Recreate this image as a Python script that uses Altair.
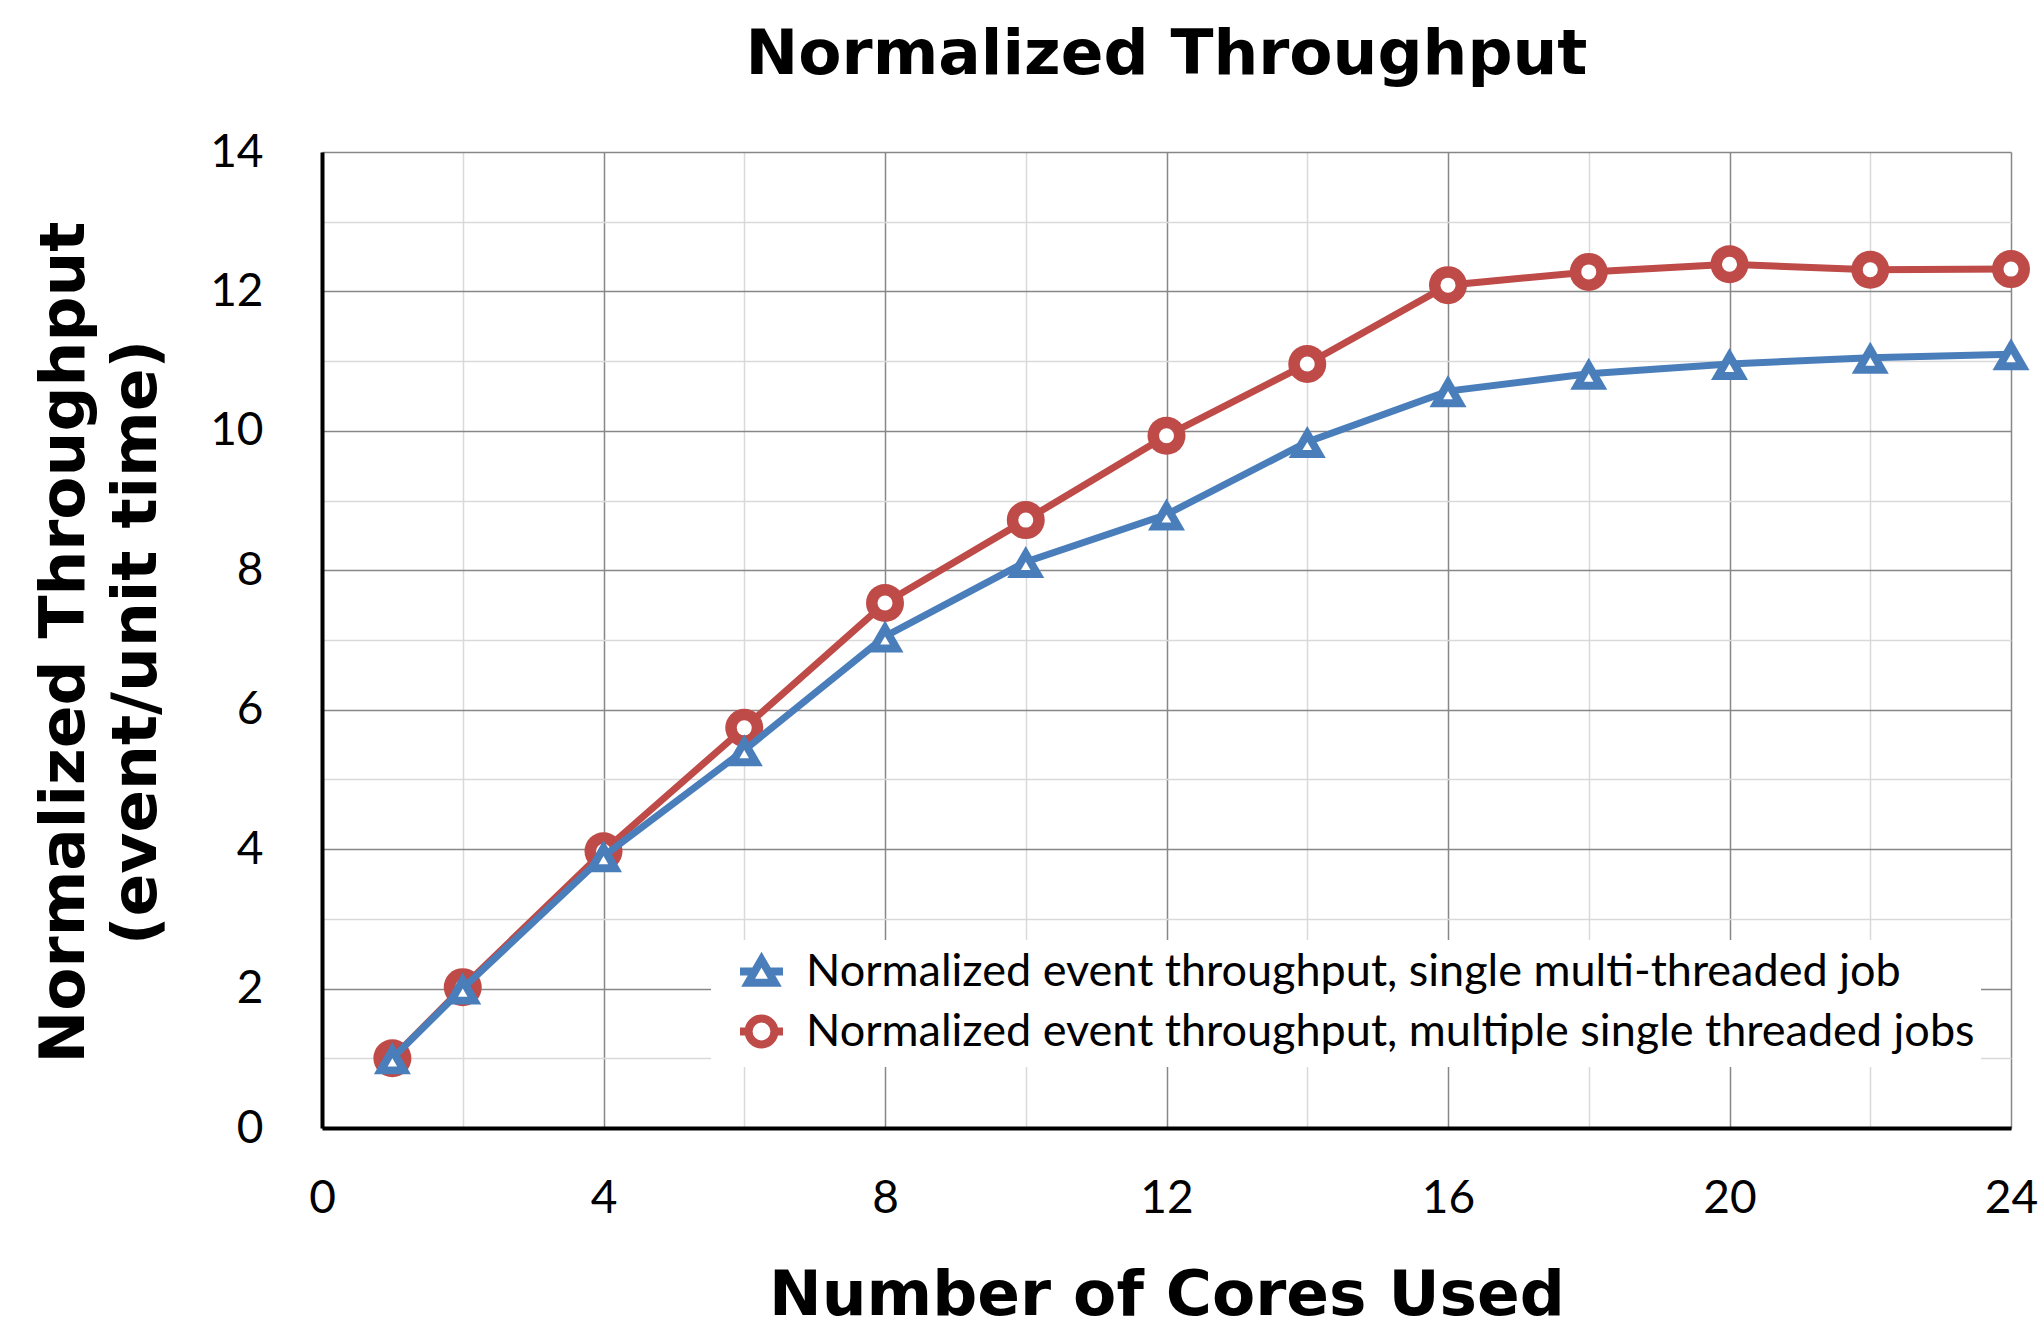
import altair as alt
import pandas as pd

# ---- data ----
cores = [1, 2, 4, 6, 8, 10, 12, 14, 16, 18, 20, 22, 24]
single_mt = [1.0, 2.0, 3.9, 5.42, 7.05, 8.12, 8.8, 9.84, 10.57, 10.82, 10.96, 11.05, 11.1]
multi_st = [1.0, 2.02, 3.97, 5.74, 7.53, 8.72, 9.93, 10.96, 12.09, 12.28, 12.39, 12.31, 12.32]
series_names = [
    "Normalized event throughput, single multi-threaded job",
    "Normalized event throughput, multiple single threaded jobs",
]
colors = ["#4A7EBB", "#BE4B48"]
x_ticks = list(range(0, 25, 2))
y_ticks = list(range(0, 15))

rows = []
for c, a, b in zip(cores, single_mt, multi_st):
    rows.append({"cores": c, "value": a, "series": series_names[0]})
    rows.append({"cores": c, "value": b, "series": series_names[1]})
df = pd.DataFrame(rows)

LABEL_FONT = "Lato"
TITLE_FONT = "DejaVu Sans"
MAJOR = "#878787"
MINOR = "#d9d9d9"

x_axis = alt.Axis(
    values=x_ticks,
    labelExpr="datum.value % 4 === 0 ? datum.label : ''",
    grid=True,
    gridColor={"condition": {"test": "datum.value % 4 === 0", "value": MAJOR}, "value": MINOR},
    gridWidth=1.5,
    ticks=False,
    tickSize=0,
    domainColor="black",
    domainWidth=4,
    labelFont=LABEL_FONT,
    labelFontSize=46,
    labelColor="black",
    labelPadding=48,
    labelFlush=False,
    labelOverlap=False,
    title="Number of Cores Used",
    titleFont=TITLE_FONT,
    titleFontSize=63,
    titleFontWeight="bold",
    titleColor="black",
    titleX=844.5,
    titleY=186,
    titleAlign="center",
    titleBaseline="alphabetic",
)

y_axis = alt.Axis(
    values=y_ticks,
    labelExpr="datum.value % 2 === 0 ? datum.label : ''",
    grid=True,
    gridColor={"condition": {"test": "datum.value % 2 === 0", "value": MAJOR}, "value": MINOR},
    gridWidth=1.5,
    ticks=False,
    tickSize=0,
    domainColor="black",
    domainWidth=4,
    labelFont=LABEL_FONT,
    labelFontSize=46,
    labelColor="black",
    labelPadding=59,
    labelFlush=False,
    labelOverlap=False,
    title=["Normalized Throughput", "(event/unit time)"],
    titleFont=TITLE_FONT,
    titleFontSize=63,
    titleFontWeight="bold",
    titleColor="black",
    titleLineHeight=72,
    titleAngle=270,
    titleX=-239,
    titleY=490,
    titleAlign="center",
    titleBaseline="alphabetic",
)

X = alt.X("cores:Q", scale=alt.Scale(domain=[0, 24], nice=False, zero=True), axis=x_axis)
Y = alt.Y("value:Q", scale=alt.Scale(domain=[0, 14], nice=False, zero=True), axis=y_axis)

tri_path = "M-1,0H-0.3M0.3,0H1M0,-0.55L0.62,0.52L-0.62,0.52Z"
circ_path = "M-0.6,0A0.6,0.6,0,1,1,0.6,0A0.6,0.6,0,1,1,-0.6,0ZM-1,0H-0.6M0.6,0H1"

legend = alt.Legend(
    title=None,
    orient="none",
    legendX=389,
    legendY=788,
    fillColor="white",
    padding=6,
    symbolOffset=19,
    labelOffset=19,
    rowPadding=3,
    symbolSize=1849,
    symbolStrokeWidth=8,
    symbolOpacity=1,
    symbolFillColor="white",
    labelFont=LABEL_FONT,
    labelFontSize=45,
    labelColor="black",
    labelLimit=0,
)

base = alt.Chart(df)

legend_layer = base.mark_point(opacity=0, filled=False, strokeWidth=8).encode(
    x=X,
    y=Y,
    color=alt.Color("series:N", scale=alt.Scale(domain=series_names, range=colors), legend=legend),
    shape=alt.Shape("series:N", scale=alt.Scale(domain=series_names, range=[tri_path, circ_path]), legend=legend),
)

red = base.transform_filter(alt.datum.series == series_names[1])
blue = base.transform_filter(alt.datum.series == series_names[0])

red_line = red.mark_line(color=colors[1], strokeWidth=7).encode(x=X, y=Y)
red_outer = red.mark_point(
    shape="circle", filled=True, color=colors[1], size=1444, opacity=1, strokeWidth=0
).encode(x=X, y=Y)
red_inner = red.mark_point(
    shape="circle", filled=True, color="white", size=225, opacity=1, strokeWidth=0
).encode(x=X, y=Y)
blue_line = blue.mark_line(color=colors[0], strokeWidth=7).encode(x=X, y=Y)
blue_outer = blue.mark_point(
    shape="triangle-up", filled=True, color=colors[0], size=1369, opacity=1, strokeWidth=0
).encode(x=X, y=Y)
blue_inner = blue.mark_point(
    shape="triangle-up", filled=True, color="white", size=90, opacity=1, strokeWidth=0, yOffset=4
).encode(x=X, y=Y)

chart = (
    alt.layer(legend_layer, red_line, red_outer, red_inner, blue_line, blue_outer, blue_inner)
    .properties(
        width=1689,
        height=976,
        title=alt.Title(
            "Normalized Throughput",
            font=TITLE_FONT,
            fontSize=63,
            fontWeight="bold",
            color="black",
            anchor="middle",
            offset=42,
        ),
        autosize=alt.AutoSizeParams(type="none"),
        padding={"left": 322, "top": 152, "right": 33, "bottom": 201},
    )
    .configure_view(stroke=None)
    .configure(background="white")
)

chart.save("out.html", embed_options={"renderer": "svg", "actions": False})
